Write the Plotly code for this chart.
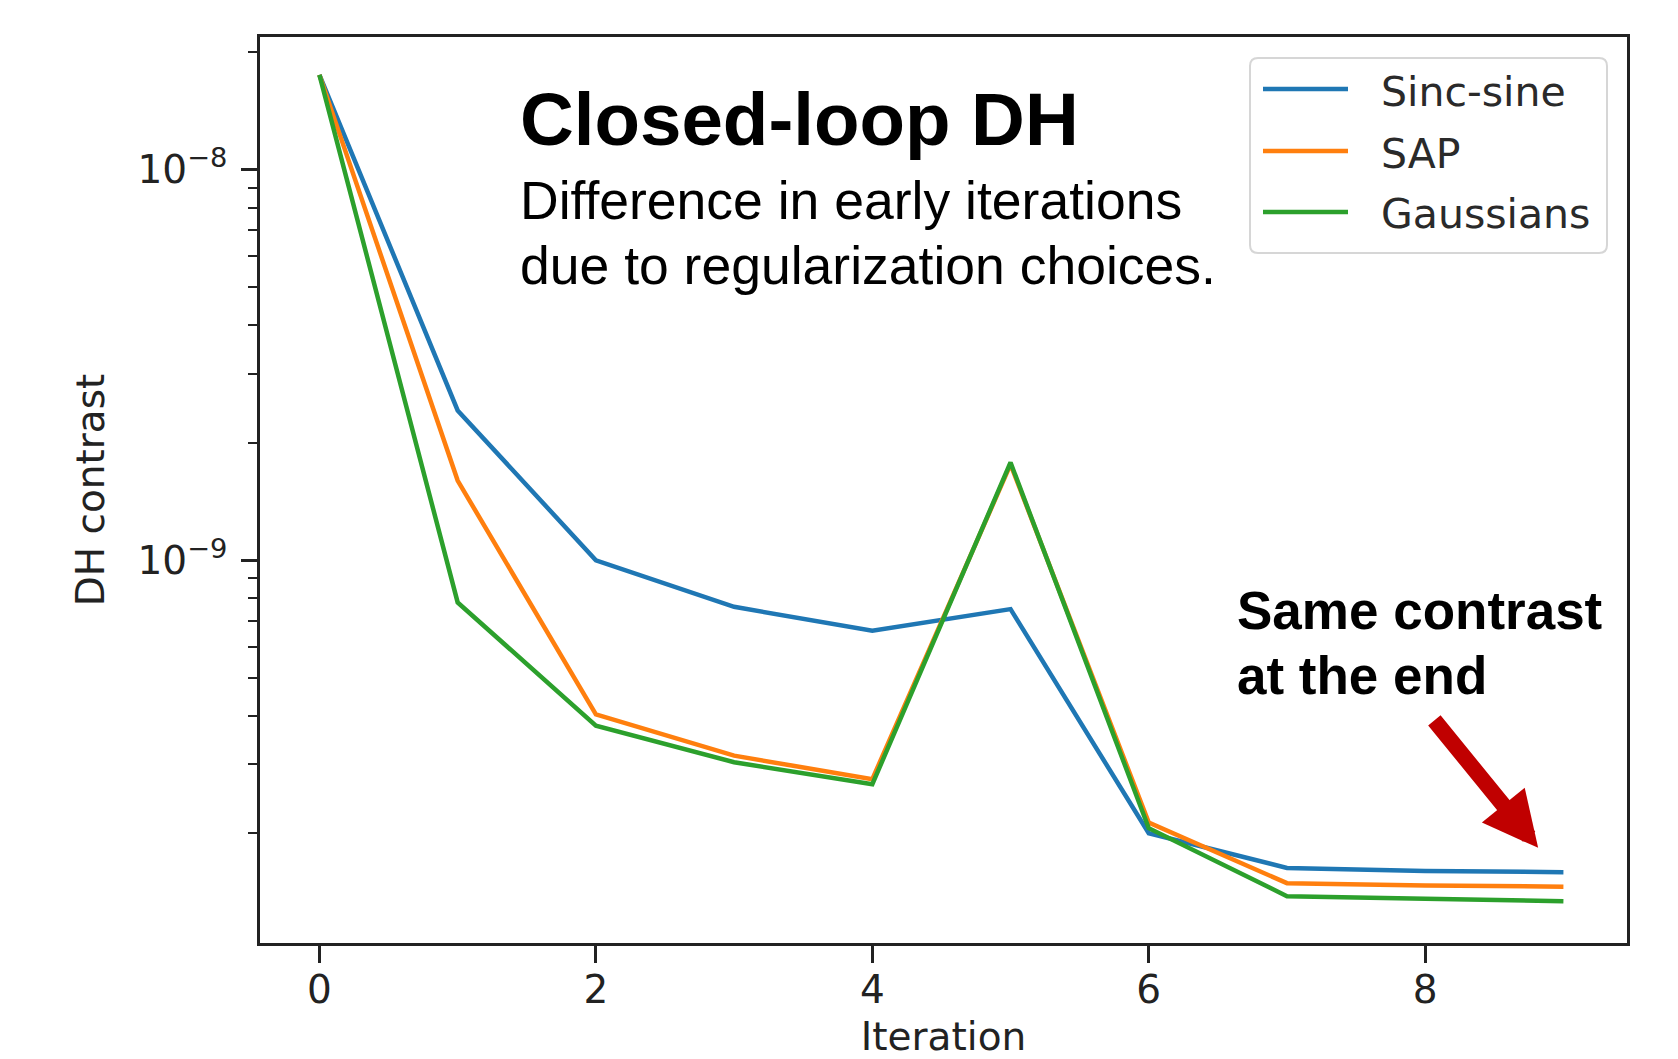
import plotly.graph_objects as go

# ---- data ----
iterations = [0, 1, 2, 3, 4, 5, 6, 7, 8, 9]
sinc_sine = [1.75e-8, 2.42e-9, 1.00e-9, 7.6e-10, 6.6e-10, 7.5e-10, 2.00e-10, 1.63e-10, 1.60e-10, 1.59e-10]
sap = [1.75e-8, 1.60e-9, 4.03e-10, 3.16e-10, 2.75e-10, 1.76e-9, 2.13e-10, 1.49e-10, 1.47e-10, 1.46e-10]
gaussians = [1.75e-8, 7.8e-10, 3.77e-10, 3.04e-10, 2.67e-10, 1.78e-9, 2.06e-10, 1.38e-10, 1.36e-10, 1.34e-10]

series_names = ["Sinc-sine", "SAP", "Gaussians"]
series_values = [sinc_sine, sap, gaussians]
series_colors = ["#1f77b4", "#ff7f0e", "#2ca02c"]

x_tick_vals = [0, 2, 4, 6, 8]
y_major_vals = [1e-9, 1e-8]
y_major_text = ["10<sup>\u22129</sup>", "10<sup>\u22128</sup>"]
y_minor_vals = [2e-10, 3e-10, 4e-10, 5e-10, 6e-10, 7e-10, 8e-10, 9e-10,
                2e-9, 3e-9, 4e-9, 5e-9, 6e-9, 7e-9, 8e-9, 9e-9, 2e-8]

title_text = "Closed-loop DH"
subtitle_lines = ["Difference in early iterations", "due to regularization choices."]
note_lines = ["Same contrast", "at the end"]

AXIS_FONT = "DejaVu Sans"
ANN_FONT = "Liberation Sans, Arial, Helvetica, sans-serif"
INK = "#222222"

W, H = 1678, 1059
ML, MR, MT, MB = 260, 51, 37, 116
PW, PH = W - ML - MR, H - MT - MB


def px_x(p):
    return (p - ML) / PW


def px_y(p):
    return (H - MB - p) / PH


fig = go.Figure()
for name, vals, col in zip(series_names, series_values, series_colors):
    fig.add_trace(go.Scatter(x=iterations, y=vals, name=name, mode="lines",
                             line=dict(color=col, width=4.5), showlegend=False))

fig.update_layout(
    width=W, height=H,
    margin=dict(l=ML, r=MR, t=MT, b=MB),
    paper_bgcolor="white", plot_bgcolor="white",
    font=dict(family=AXIS_FONT, size=39, color=INK),
    showlegend=False,
)

fig.update_xaxes(
    range=[-0.43, 9.46], tickvals=x_tick_vals, ticks="outside", ticklen=17, tickwidth=2.5,
    tickcolor=INK, showline=True, linecolor=INK, linewidth=2.5, mirror=True,
    showgrid=False, zeroline=False, automargin=False, ticklabelstandoff=-7,
    title=dict(text="Iteration", standoff=50, font=dict(family=AXIS_FONT, size=39, color=INK)),
)
fig.update_yaxes(
    type="log", range=[-9.98, -7.66], tickvals=y_major_vals, ticktext=y_major_text,
    ticks="outside", ticklen=16, tickwidth=2.5, tickcolor=INK,
    minor=dict(tickvals=y_minor_vals, ticks="outside", ticklen=9, tickwidth=2, tickcolor=INK, showgrid=False),
    showline=True, linecolor=INK, linewidth=2.5, mirror=True,
    showgrid=False, zeroline=False, automargin=False, ticklabelstandoff=6,
    title=dict(text="DH contrast", standoff=21, font=dict(family=AXIS_FONT, size=39, color=INK)),
)

# ---- legend (box, sample lines, labels) built from the series lists ----
bx0, bx1, by0, by1 = px_x(1250), px_x(1607), px_y(58), px_y(253)
rx, ry = 8 / PW, 8 / PH
box_path = (f"M{bx0+rx},{by0} L{bx1-rx},{by0} Q{bx1},{by0} {bx1},{by0-ry} "
            f"L{bx1},{by1+ry} Q{bx1},{by1} {bx1-rx},{by1} L{bx0+rx},{by1} "
            f"Q{bx0},{by1} {bx0},{by1+ry} L{bx0},{by0-ry} Q{bx0},{by0} {bx0+rx},{by0} Z")
fig.add_shape(type="path", path=box_path, xref="paper", yref="paper",
              line=dict(color="#d6d6d6", width=2), fillcolor="white", layer="above")
row_y = [89, 151, 212]
for name, col, ry_px in zip(series_names, series_colors, row_y):
    fig.add_shape(type="line", xref="paper", yref="paper",
                  x0=px_x(1263), x1=px_x(1348), y0=px_y(ry_px), y1=px_y(ry_px),
                  line=dict(color=col, width=4.5), layer="above")
    fig.add_annotation(xref="paper", yref="paper", x=px_x(1379), y=px_y(ry_px + 2.5),
                       xanchor="left", yanchor="middle", text=name, showarrow=False,
                       font=dict(family=AXIS_FONT, size=41, color="#2a2a2a"))

# ---- title / subtitle / note texts ----
fig.add_annotation(xref="paper", yref="paper", x=0.1887, y=0.909, xanchor="left", yanchor="middle",
                   text="<b>" + title_text + "</b>", showarrow=False,
                   font=dict(family=ANN_FONT, size=74.5, color="black"))
for line, yy in zip(subtitle_lines, [0.819, 0.748]):
    fig.add_annotation(xref="paper", yref="paper", x=0.1887, y=yy, xanchor="left", yanchor="middle",
                       text=line, showarrow=False,
                       font=dict(family=ANN_FONT, size=53.5, color="black"))
for line, yy in zip(note_lines, [0.3665, 0.2958]):
    fig.add_annotation(xref="paper", yref="paper", x=0.7133, y=yy, xanchor="left", yanchor="middle",
                       text="<b>" + line + "</b>", showarrow=False,
                       font=dict(family=ANN_FONT, size=53, color="black"))

# ---- red arrow ----
fig.add_annotation(xref="paper", yref="paper", x=0.935, y=0.105, ax=-105, ay=-129,
                   text="", showarrow=True, arrowhead=2, arrowsize=0.69, arrowwidth=16,
                   arrowcolor="#C00000")

fig.write_html("out.html")
